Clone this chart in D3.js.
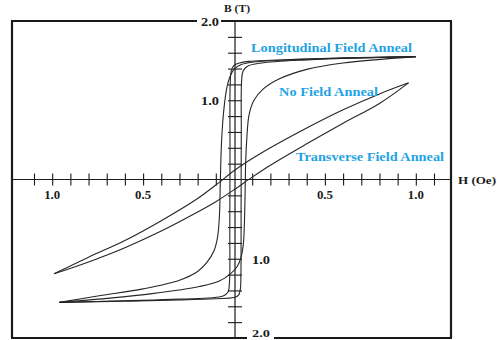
<!DOCTYPE html>
<html><head><meta charset="utf-8">
<script src="https://cdn.jsdelivr.net/npm/d3@7"></script>
<style>
body{margin:0;background:#fff;}
svg{display:block;}
text{font-family:"Liberation Serif","DejaVu Serif",serif;font-weight:bold;}
</style>
</head><body>
<svg id="c" width="497" height="340"></svg>
<script>
// ---- data ----
const xTickValues = [-1.1,-1.0,-0.9,-0.8,-0.7,-0.6,-0.5,-0.4,-0.3,-0.2,-0.1,0.1,0.2,0.3,0.4,0.5,0.6,0.7,0.8,0.9,1.0,1.1];
const yTickValues = [-1.8,-1.6,-1.4,-1.2,-1.0,-0.8,-0.6,-0.4,-0.2,0.2,0.4,0.6,0.8,1.0,1.2,1.4,1.6,1.8];
const xTickLabels = [[-1.0,"1.0"],[-0.5,"0.5"],[0.5,"0.5"],[1.0,"1.0"]];
const yTickLabels = [[2.0,"2.0"],[1.0,"1.0"],[-1.0,"1.0"],[-2.0,"2.0"]];
const seriesNames = ["Longitudinal Field Anneal","No Field Anneal","Transverse Field Anneal"];

// Longitudinal field anneal (square loop)
const longDesc = [[1.0,1.55],[0.7,1.535],[0.4,1.52],[0.2,1.505],[0.08,1.49],[0.03,1.47],[0.0,1.44],[-0.015,1.37],[-0.021,1.2],[-0.022,0.4],[-0.023,-0.6],[-0.025,-1.3],[-0.033,-1.42],[-0.06,-1.47],[-0.3,-1.51],[-0.6,-1.53],[-0.96,-1.55]];
const longAsc  = [[-0.96,-1.55],[-0.6,-1.535],[-0.3,-1.52],[-0.1,-1.505],[0.0,-1.49],[0.025,-1.46],[0.035,-1.38],[0.038,-1.2],[0.039,-0.4],[0.04,0.6],[0.042,1.25],[0.05,1.37],[0.075,1.43],[0.15,1.47],[0.4,1.51],[0.7,1.535],[1.0,1.55]];

// No field anneal
const noDesc = [[1.0,1.55],[0.6,1.535],[0.3,1.51],[0.12,1.485],[0.04,1.45],[0.0,1.39],[-0.025,1.28],[-0.04,1.15],[-0.055,0.9],[-0.068,0.5],[-0.075,0.0],[-0.08,-0.45],[-0.09,-0.72],[-0.11,-0.9],[-0.15,-1.05],[-0.2,-1.16],[-0.3,-1.27],[-0.5,-1.38],[-0.75,-1.47],[-0.96,-1.55]];
const noAsc  = [[-0.96,-1.55],[-0.7,-1.5],[-0.45,-1.44],[-0.19,-1.35],[-0.08,-1.28],[-0.02,-1.19],[0.017,-1.1],[0.04,-0.97],[0.052,-0.8],[0.06,-0.3],[0.064,0.2],[0.07,0.5],[0.083,0.82],[0.11,1.0],[0.16,1.14],[0.25,1.27],[0.4,1.39],[0.6,1.47],[1.0,1.55]];

// Transverse field anneal
const transDesc = [[0.96,1.22],[0.8,1.08],[0.6,0.88],[0.4,0.65],[0.2,0.4],[0.07,0.22],[0.0,0.11],[-0.1,-0.07],[-0.2,-0.24],[-0.4,-0.52],[-0.6,-0.77],[-0.8,-0.98],[-0.99,-1.19]];
const transAsc  = [[-0.99,-1.19],[-0.8,-1.04],[-0.6,-0.86],[-0.4,-0.65],[-0.2,-0.41],[-0.1,-0.28],[0.0,-0.13],[0.1,0.03],[0.2,0.18],[0.4,0.45],[0.6,0.71],[0.8,0.96],[0.96,1.22]];

const curves = [longDesc,longAsc,noDesc,noAsc,transDesc,transAsc];

// ---- layout ----
const svg = d3.select("#c");
const x = d3.scaleLinear().domain([-1.1,1.1]).range([34,434]);
const y = d3.scaleLinear().domain([-2,2]).range([338,21]);
const frameL = 12, frameR = 451;
const ink = "#1a1a1a";
const cyan = "#1fa3e3";

// frame with label gaps
const fg = svg.append("g").attr("stroke",ink).attr("stroke-width",2.2).attr("fill","none");
fg.append("line").attr("x1",frameL).attr("x2",frameL).attr("y1",y(2)).attr("y2",y(-2));
fg.append("line").attr("x1",frameR).attr("x2",frameR).attr("y1",y(2)).attr("y2",y(-2));
fg.append("line").attr("x1",frameL-1).attr("x2",197).attr("y1",y(2)).attr("y2",y(2));
fg.append("line").attr("x1",221).attr("x2",frameR+1).attr("y1",y(2)).attr("y2",y(2));
fg.append("line").attr("x1",frameL-1).attr("x2",247).attr("y1",y(-2)).attr("y2",y(-2));
fg.append("line").attr("x1",274).attr("x2",frameR+1).attr("y1",y(-2)).attr("y2",y(-2));

// axes
const ag = svg.append("g").attr("stroke",ink).attr("stroke-width",1.2);
ag.append("line").attr("x1",frameL).attr("x2",frameR).attr("y1",y(0)).attr("y2",y(0));
ag.append("line").attr("x1",x(0)+1).attr("x2",x(0)+1).attr("y1",y(2)).attr("y2",y(-2));

const xAxis = d3.axisBottom(x).tickValues(xTickValues).tickSize(12).tickFormat("");
const xa = svg.append("g").attr("transform",`translate(0,${y(0)-6})`).call(xAxis);
xa.select(".domain").remove();
xa.selectAll(".tick line").attr("stroke",ink).attr("stroke-width",1.1);

const yAxis = d3.axisLeft(y).tickValues(yTickValues).tickSize(14).tickFormat("");
const ya = svg.append("g").attr("transform",`translate(${x(0)+8},0)`).call(yAxis);
ya.select(".domain").remove();
ya.selectAll(".tick line").attr("stroke",ink).attr("stroke-width",1.1);

// tick labels
svg.append("g").selectAll("text").data(xTickLabels).join("text")
  .attr("x",d=>x(d[0])).attr("y",y(0)+15).attr("text-anchor","middle")
  .attr("dominant-baseline","central").attr("font-size",11.5).attr("fill",ink)
  .attr("textLength",16).attr("lengthAdjust","spacingAndGlyphs").text(d=>d[1]);

svg.append("g").selectAll("text").data(yTickLabels).join("text")
  .attr("x",d=>d[0]>0 ? 210 : 261).attr("y",d=>d[0]===-2 ? y(d[0])-4.5 : y(d[0])+1).attr("text-anchor","middle")
  .attr("dominant-baseline","central").attr("font-size",d=>d[0]===-2 ? 10.5 : 11.5).attr("fill",ink)
  .attr("textLength",18).attr("lengthAdjust","spacingAndGlyphs").text(d=>d[1]);

// axis titles
svg.append("text").attr("x",224).attr("y",8.5).attr("dominant-baseline","central")
  .attr("font-size",10.5).attr("fill",ink).attr("textLength",26).attr("lengthAdjust","spacingAndGlyphs").text("B (T)");
svg.append("text").attr("x",458).attr("y",y(0)+1).attr("dominant-baseline","central")
  .attr("font-size",10.5).attr("fill",ink).attr("textLength",38).attr("lengthAdjust","spacingAndGlyphs").text("H (Oe)");

// curves
const line = d3.line().x(d=>x(d[0])).y(d=>y(d[1])).curve(d3.curveCatmullRom.alpha(0.5));
svg.append("g").selectAll("path").data(curves).join("path")
  .attr("d",line).attr("fill","none").attr("stroke","#262626").attr("stroke-width",1.1);

// annotations
const notes = [
  {t:seriesNames[0], x:251, y:48, w:161},
  {t:seriesNames[1], x:279, y:92, w:99},
  {t:seriesNames[2], x:296, y:157, w:148}
];
svg.append("g").selectAll("text").data(notes).join("text")
  .attr("x",d=>d.x).attr("y",d=>d.y).attr("dominant-baseline","central")
  .attr("font-size",12).attr("fill",cyan)
  .attr("textLength",d=>d.w).attr("lengthAdjust","spacingAndGlyphs").text(d=>d.t);
</script>
</body></html>
